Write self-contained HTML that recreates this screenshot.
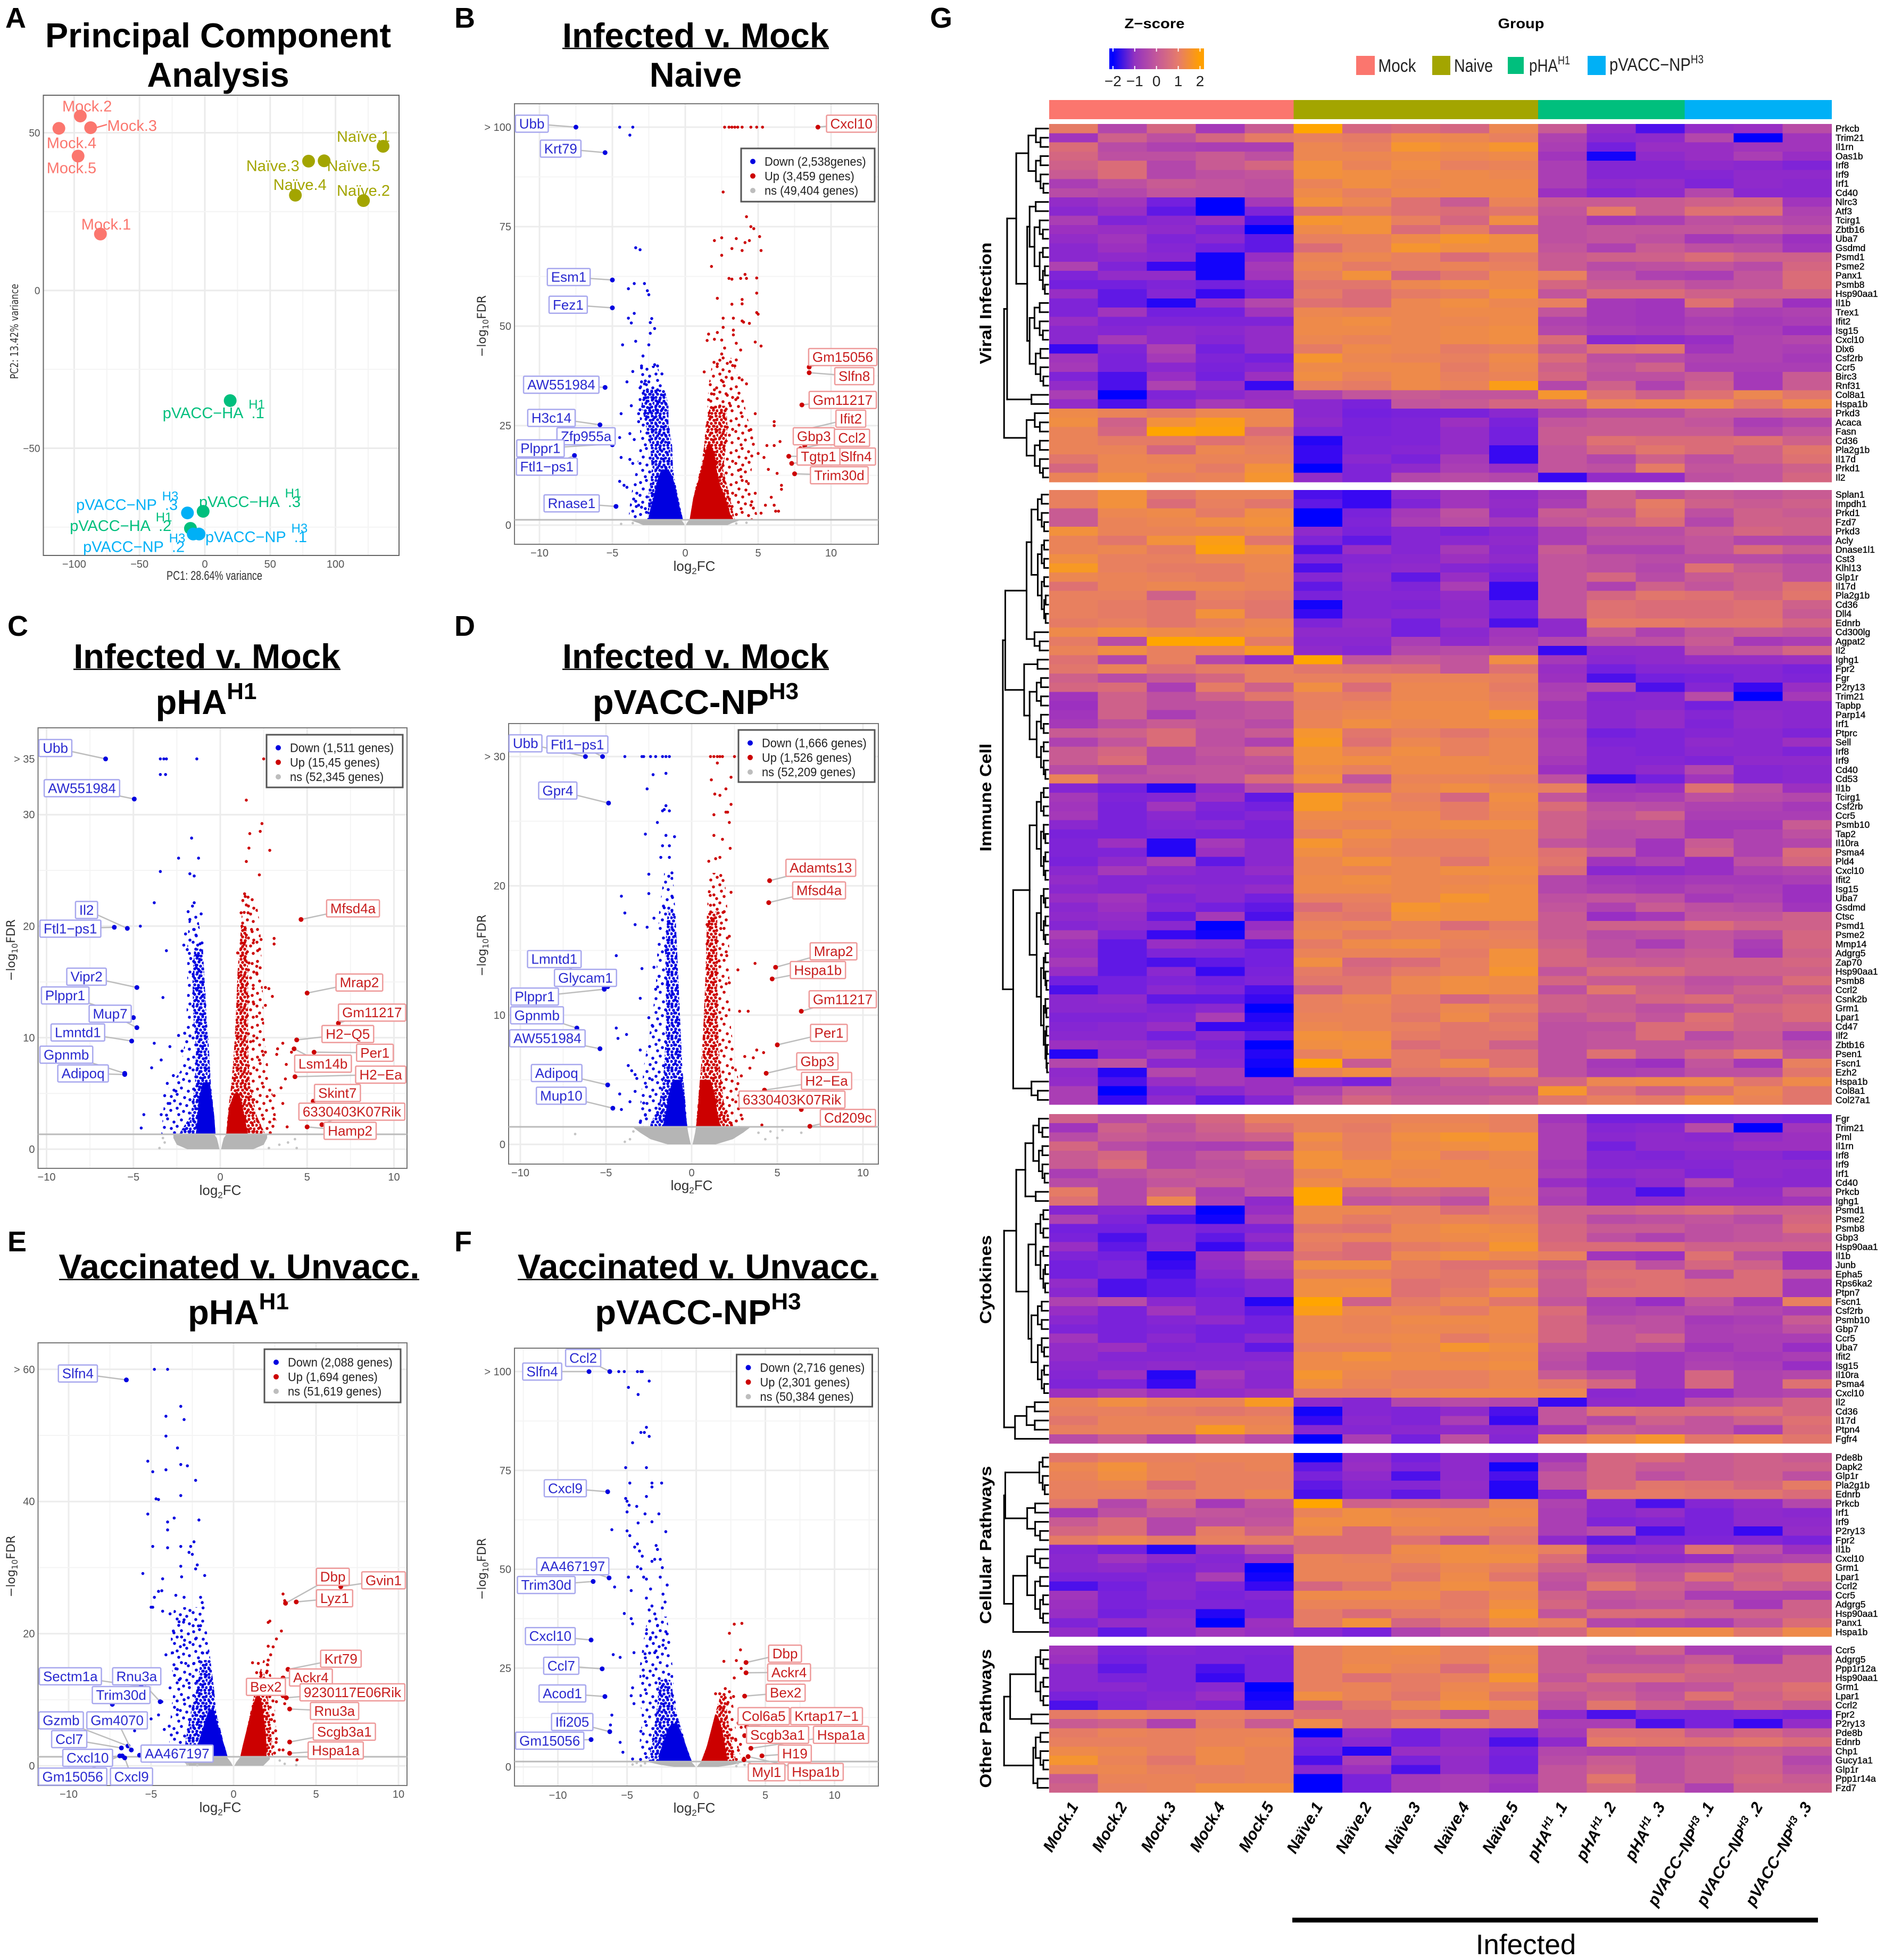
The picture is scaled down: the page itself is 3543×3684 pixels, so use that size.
<!DOCTYPE html>
<html lang="en"><head><meta charset="utf-8"><title>RNA-seq PCA, volcano plots and heatmap</title>
<style>
html,body{margin:0;padding:0;background:#fff}
svg{display:block}
text{font-family:"Liberation Sans",sans-serif}
.ttl{font-weight:700;font-size:65px;text-anchor:middle;fill:#000}
.ltr{font-weight:700;font-size:54px;fill:#000}
.side{font-weight:700;font-size:31px;text-anchor:middle;fill:#000}
.dj{font-family:"DejaVu Sans",sans-serif;fill:#333}
</style></head><body>
<svg id="fig" xmlns="http://www.w3.org/2000/svg" width="3543" height="3684" viewBox="0 0 3543 3684">
<rect width="3543" height="3684" fill="#fff"/>
<defs id="defs"><linearGradient id="zgrad" x1="0" x2="1" y1="0" y2="0"><stop offset="0.038" stop-color="#0000ff"/><stop offset="0.267" stop-color="#9232c0"/><stop offset="0.5" stop-color="#c4589a"/><stop offset="0.73" stop-color="#e67c6a"/><stop offset="0.957" stop-color="#ffa000"/></linearGradient></defs>

<g>
<text class="ltr" x="10" y="52">A</text>
<text class="ltr" x="854" y="52">B</text>
<text class="ltr" x="14" y="1195">C</text>
<text class="ltr" x="854" y="1195">D</text>
<text class="ltr" x="14" y="2352">E</text>
<text class="ltr" x="854" y="2352">F</text>
<text class="ltr" x="1748" y="52">G</text>
</g>

<g>
<text class="ttl" x="410" y="89" textLength="650" lengthAdjust="spacingAndGlyphs">Principal Component</text>
<text class="ttl" x="410" y="163">Analysis</text>
<text class="ttl" x="1307.5" y="89" textLength="501" lengthAdjust="spacingAndGlyphs">Infected v. Mock</text>
<line x1="1057" x2="1558" y1="91" y2="91" stroke="#000" stroke-width="2.5"/>
<text class="ttl" x="1307.5" y="163">Naive</text>
<text class="ttl" x="388.7" y="1256" textLength="501" lengthAdjust="spacingAndGlyphs">Infected v. Mock</text>
<line x1="138" x2="640" y1="1258" y2="1258" stroke="#000" stroke-width="2.5"/>
<text class="ttl" x="387.6" y="1342">pHA<tspan font-size="44" dy="-28">H1</tspan></text>
<text class="ttl" x="1307.5" y="1256" textLength="501" lengthAdjust="spacingAndGlyphs">Infected v. Mock</text>
<line x1="1057" x2="1558" y1="1258" y2="1258" stroke="#000" stroke-width="2.5"/>
<text class="ttl" x="1307.5" y="1342">pVACC-NP<tspan font-size="44" dy="-28">H3</tspan></text>
<text class="ttl" x="449.4" y="2403" textLength="678" lengthAdjust="spacingAndGlyphs">Vaccinated v. Unvacc.</text>
<line x1="111" x2="788" y1="2405" y2="2405" stroke="#000" stroke-width="2.5"/>
<text class="ttl" x="448" y="2489">pHA<tspan font-size="44" dy="-28">H1</tspan></text>
<text class="ttl" x="1312" y="2403" textLength="678" lengthAdjust="spacingAndGlyphs">Vaccinated v. Unvacc.</text>
<line x1="973" x2="1651" y1="2405" y2="2405" stroke="#000" stroke-width="2.5"/>
<text class="ttl" x="1312" y="2489">pVACC-NP<tspan font-size="44" dy="-28">H3</tspan></text>
</g>

<g id="pca"></g>
<g id="volB"></g>
<g id="volC"></g>
<g id="volD"></g>
<g id="volE"></g>
<g id="volF"></g>

<g>
<text x="2170" y="53" font-weight="700" font-size="26" text-anchor="middle" textLength="113" lengthAdjust="spacingAndGlyphs">Z−score</text>
<text x="2859" y="53" font-weight="700" font-size="26" text-anchor="middle" textLength="87" lengthAdjust="spacingAndGlyphs">Group</text>
<rect x="2085" y="91" width="178" height="39" fill="url(#zgrad)"/>
<g id="zticks"></g>
<rect x="2549" y="105" width="35" height="36" fill="#fb766e"/>
<text x="2590.5" y="135" font-size="34" fill="#222" textLength="71" lengthAdjust="spacingAndGlyphs">Mock</text>
<rect x="2692" y="105" width="34" height="36" fill="#a3a500"/>
<text x="2733" y="135" font-size="34" fill="#222" textLength="73" lengthAdjust="spacingAndGlyphs">Naive</text>
<rect x="2834" y="107" width="30" height="32" fill="#00bf7d"/>
<text x="2874" y="135" font-size="34" fill="#222" textLength="77" lengthAdjust="spacingAndGlyphs">pHA<tspan font-size="22" dy="-14">H1</tspan></text>
<rect x="2984" y="105" width="34" height="36" fill="#00b0f6"/>
<text x="3025" y="133" font-size="34" fill="#222" textLength="177" lengthAdjust="spacingAndGlyphs">pVACC−NP<tspan font-size="22" dy="-14">H3</tspan></text>
</g>

<g>
<text class="side" transform="translate(1863 570) rotate(-90)" textLength="229" lengthAdjust="spacingAndGlyphs">Viral Infection</text>
<text class="side" transform="translate(1863 1499) rotate(-90)" textLength="203" lengthAdjust="spacingAndGlyphs">Immune Cell</text>
<text class="side" transform="translate(1863 2405) rotate(-90)" textLength="167" lengthAdjust="spacingAndGlyphs">Cytokines</text>
<text class="side" transform="translate(1863 2904) rotate(-90)" textLength="297" lengthAdjust="spacingAndGlyphs">Cellular Pathways</text>
<text class="side" transform="translate(1863 3230) rotate(-90)" textLength="261" lengthAdjust="spacingAndGlyphs">Other Pathways</text>
</g>

<g id="heat"></g>
<line x1="2429" x2="3417" y1="3609" y2="3609" stroke="#000" stroke-width="9"/>
<text x="2868" y="3673" font-size="53" text-anchor="middle" fill="#000">Infected</text>
</svg>

<script>
/* ===== PCA data ===== */
const pcaNames=['Mock.1','Mock.2','Mock.3','Mock.4','Mock.5','Naïve.1','Naïve.2','Naïve.3','Naïve.4','Naïve.5','pVACC−HA','pVACC−HA','pVACC−HA','pVACC−NP','pVACC−NP','pVACC−NP'];
const pcaSups=['','','','','','','','','','','H1','H1','H1','H3','H3','H3'];
const pcaSuffix=['','','','','','','','','','','.1','.2','.3','.1','.2','.3'];
const pcaGroups=[0,0,0,0,0,1,1,1,1,1,2,2,2,3,3,3];
const pcaPC1=[-79.9,-95.3,-87.4,-111.7,-97,136.4,121.4,79.4,69.3,91.3,19.4,-11,-1.3,-4.4,-8.9,-13.3];
const pcaPC2=[17.9,55.3,51.6,51.4,42.6,45.7,28.5,41,30.2,41.1,-34.9,-75.4,-70,-77.2,-77.2,-70.5];
const pcaLabelAt=[[184,575],[151,272],[229,322],[124,366],[124,430],[630,350],[630,488],[473,425],[520,473],[613,425],[352,1058],[191,1347],[415,1286],[426,1376],[214,1401],[202,1293]];
const groupColors=['#fb766e','#a3a500','#00bf7d','#00b0f6'];

/* ===== Volcano B ===== */
const bGenes=['Ubb','Krt79','Esm1','Fez1','AW551984','H3c14','Zfp955a','Plppr1','Ftl1−ps1','Rnase1','Cxcl10','Gm15056','Slfn8','Gm11217','Ifit2','Slfn4','Gbp3','Ccl2','Tgtp1','Trim30d'];
const bGeneFC=[-7.5,-5.5,-5,-5,-5.5,-5.85,-5,-5,-7.6,-4.75,9.1,8.5,8.5,8,8.2,7.3,8.2,7.9,7.1,7.5];
const bGeneFDR=[100,93.6,61.6,54.6,34.6,25.2,20.2,20.4,17.5,4.7,100,39.7,38.3,30.2,24,15.5,19.9,19.2,17.3,12.9];
const bBoxes=[[922,317],[972,381],[986,710],[985,781],[973,986],[956,1071],[1016,1118],[937,1149],[948,1196],[991,1290],[1476,317],[1461,915],[1481,964],[1461,1025],[1475,1073],[1484,1170],[1411,1118],[1477,1122],[1419,1170],[1455,1218]];
const bLegend=['Down (2,538genes)','Up (3,459 genes)','ns (49,404 genes)'];
const bDown=[[-4.5,100],[-3.6,100],[-3.8,98],[-3.4,69.7],[-3.1,69.2],[-3.9,59.4],[-3.5,60.7],[-2.8,60.7],[-2.6,58.9],[-2.5,57.9],[-3.9,52],[-3.5,53.2],[-3.7,50.8],[-2.3,51.9],[-2.4,50.9],[-2.1,49.4],[-2.4,48.2],[-3.4,46.2],[-4.3,45.3],[-2.5,45.3],[-2.9,42.5],[-3.6,38.6],[-3,40],[-3,39.5],[-2.1,40.3],[-1.9,40],[-1.6,38],[-4,36],[-3,36],[-2.8,35.5],[-2.5,36],[-3.1,34.5],[-2.6,34],[-2.3,33.5],[-1.9,34],[-2.2,32],[-2.7,32],[-1.9,31],[-3.7,30],[-3.1,29],[-2,29],[-3.2,28],[-2.4,28.5],[-4.4,28],[-3.2,26],[-2.1,27],[-4.5,22],[-3.8,23],[-3.5,21.5],[-4.4,17],[-3.8,16.5],[-3.6,15.5],[-4.5,11],[-4.2,10],[-4,9.5],[-3.4,6],[-3.2,5],[-3,4.5],[-3.6,3.5]];
const bUp=[[2.7,100],[3,100],[3.2,100],[3.4,100],[3.6,100],[3.9,100],[4.5,100],[4.9,100],[5.3,100],[2.6,83.7],[4.2,77.5],[4.5,75],[4.7,74.5],[5.1,72.5],[2,71.5],[2.5,72.2],[3.5,72],[4.1,71],[4.4,71.5],[3.2,69.5],[3.9,69],[5.2,69],[2.5,67.8],[1.8,65],[3,62],[3.2,61.8],[3.8,62],[4.1,63],[4.2,62],[4.9,62.1],[4.9,58.3],[2.2,57],[3.2,55.5],[3.9,55.6],[3.9,56.7],[4.9,53.4],[5,53],[2.6,52],[3.3,52],[3.9,51.3],[4,51],[4.4,50.7],[2.6,49.7],[3.3,49],[2.2,48.4],[1.6,48],[3.3,47.8],[4.8,46],[2,46.7],[2.5,46.5],[1.5,46.4],[3.5,45.7],[5.2,45],[2.7,44.5],[2.5,43],[2.6,42],[3.1,41],[3.5,41.5],[3.8,44],[2.2,40.5],[3.4,40],[1.3,38.5],[3.2,37],[3.7,37],[3.9,36.5],[4.2,35.5],[2.6,36],[2,34],[1.8,33],[1.6,31.5],[2.8,33],[3.6,32],[3.1,30],[4.5,24],[6.1,26],[6.1,25],[4.8,28],[5.6,20],[6.1,20],[6.5,21],[5,18],[5.4,17],[5.7,14],[6.3,13],[6.6,10],[6.6,9],[5.9,7],[6.1,5],[5.5,5],[6.2,3.5],[6.4,3.5],[5.2,3],[4.5,5],[4.8,8],[4.2,11],[3.8,14]];
const bDownSolid=[[1.3,4,7,10,12,14],[-.15,-.35,-.53,-.72,-.85,-1.14],[-2.55,-2.4,-2.17,-2,-1.85,-1.63]];
const bDownCore=[[1.3,8,14,20,25,30,34],[-.15,-.55,-.85,-.9,-1.15,-1.15,-1.4],[-2.6,-2.5,-2.3,-2.4,-2.7,-3,-2.9]];
const bDownHalo=[[1.3,5,10,15,20,26,32,40],[-.15,-.4,-.7,-.85,-.9,-1.15,-1.3,-1.9],[-3.9,-3.8,-3.6,-3.3,-3.1,-3.1,-3.2,-3]];
const bUpSolid=[[1.3,4,7,10,14,18,20],[.3,.42,.56,.8,1.1,1.35,1.5],[3.2,3,2.75,2.4,2.15,2,1.8]];
const bUpCore=[[1.3,8,14,20,25,30],[.3,.6,1.05,1.3,1.4,1.7],[3.4,3,2.6,2.8,2.9,2.8]];
const bUpHalo=[[1.3,5,10,15,20,28,35,42],[.3,.45,.75,1.1,1.3,1.5,1.6,1.9],[5,4.8,4.4,4.6,4.8,4.2,3.8,3.2]];
const bNs=[[0,.5,1,1.3],[.05,.1,.2,.3],[2.9,3.2,3.6,3.8]];
const bNsDots=[[-4.4,.3],[-3.6,.5],[3.5,.4],[4.2,.6]];

/* ===== Volcano C ===== */
const cGenes=['Ubb','AW551984','Il2','Ftl1−ps1','Vipr2','Plppr1','Mup7','Lmntd1','Gpnmb','Adipoq','Mfsd4a','Mrap2','Gm11217','H2−Q5','Per1','Lsm14b','H2−Ea','Skint7','6330403K07Rik','Hamp2'];
const cGeneFC=[-6.6,-4.95,-5.35,-6.1,-4.8,-5,-4.8,-5.1,-5.5,-5.5,4.65,5,6.8,4.4,5.4,4.25,4.3,5.35,5.85,5];
const cGeneFDR=[35,31.4,19.8,19.9,14.5,11.8,10.9,9.7,6.8,6.7,20.6,14,11.3,9.8,8.7,9,6.5,4.3,2.2,2];
const cBoxes=[[96,349],[142,452],[150,764],[122,812],[150,935],[113,983],[191,1030],[135,1078],[115,1135],[144,1183],[612,760],[623,950],[645,1027],[603,1082],[650,1130],[560,1158],[660,1186],[585,1233],[610,1281],[607,1330]];
const cLegend=['Down (1,511 genes)','Up (15,45 genes)','ns (52,345 genes)'];
const cDown=[[-3.45,35],[-3.25,35],[-3.1,35],[-1.35,35],[-3.45,33.6],[-3.15,33.6],[-1.65,27.9],[-2.4,26.1],[-1.25,26.1],[-3.45,24.9],[-1.75,24.7],[-1.5,24.5],[-3.8,22.1],[-1.5,22.1],[-1.6,21.8],[-1.85,21.3],[-1.75,20.6],[-1.1,21.1],[-4.6,20],[-1.5,19.7],[-2,19.3],[-1.4,19.2],[-1.05,18.5],[-1.3,18.3],[-2.1,18.3],[-3.1,17.8],[-1.9,17.9],[-1.4,17.4],[-1.7,17.1],[-1.4,16.5],[-3.3,13.6],[-1.2,16],[-1.55,15.5],[-1.05,15],[-1.4,14.4],[-1.05,13.7],[-2.9,9.2],[-3.8,9.5],[-3.4,8],[-3.95,7.3],[-2.2,8.8],[-2.05,10.4],[-2.4,10.2],[-4.4,3.1],[-4.55,1.9],[-3.05,5.9],[-3.2,4.8],[-2.9,4.1],[-2.7,6.6],[-2.55,5.2],[-3.4,3.1]];
const cUp=[[2.5,35],[1.5,31.3],[2.4,29.2],[2.3,28.5],[1.7,28.3],[1.65,27],[2.85,26.8],[1.5,25.8],[2.25,24.6],[1.4,22.9],[1.6,22.6],[1.3,22.3],[1.5,21.9],[1.2,21.2],[1.6,21.2],[1.25,20],[1.4,19.7],[1.8,19.7],[1.5,19.2],[2.35,18.8],[3.1,18.9],[3.1,18.4],[1.25,18.5],[1,17.6],[1.9,18.5],[2.15,17.8],[1.4,17.1],[1.65,16.7],[2.1,16.4],[1.1,15.5],[2.1,15.8],[1.9,14.4],[2.6,14.5],[2.8,14.4],[3,13.7],[1.25,14.8],[1.6,13.7],[1.9,13.2],[1.1,12.5],[2.6,12.9],[2.1,11.9],[3.6,9.5],[3.3,9],[3.25,8.5],[4.1,8.7],[3.8,7.6],[3.5,5.5],[3.1,4.8],[3.75,6.3],[3.6,4.1],[3.1,2.7],[3.85,2],[2.6,8.7],[2.25,8],[1.9,9.7]];
const cDownSolid=[[1.3,3,4.5,6],[-.27,-.35,-.48,-.6],[-1.4,-1.3,-1.25,-1]];
const cDownCore=[[1.3,3,6,9,12,15,18],[-.27,-.35,-.55,-.65,-.8,-.9,-1],[-2.4,-1.7,-1.45,-1.4,-1.55,-1.6,-1.5]];
const cDownHalo=[[1.3,3,5,7,10,14,18,21],[-.27,-.35,-.5,-.6,-.7,-.85,-1,-1.3],[-3.4,-3.3,-3.2,-2.3,-2,-1.9,-1.9,-1.8]];
const cUpSolid=[[1.3,2.5,3.7,5],[.34,.42,.5,.8],[1.6,1.45,1.3,1.1]];
const cUpCore=[[1.3,3,6,9,12,16,20],[.34,.42,.65,.8,.9,1,1.2],[2.6,2.1,1.7,1.6,1.6,1.6,1.5]];
const cUpHalo=[[1.3,3,6,9,12,16,20,23],[.34,.42,.65,.8,.9,1,1.2,1.3],[3.3,3.2,2.9,2.6,2.5,2.4,2.3,2]];
const cNs=[[0,.4,1,1.3],[.05,.1,.2,.34],[1.9,2.5,2.7,2.7]];
const cNsDots=[[-3.5,.1],[-3.2,.6],[3.9,.6],[4.4,.1],[4.3,.9],[3.4,.4],[-3.3,1],[2.8,.1]];

/* ===== Volcano D ===== */
const dGenes=['Ubb','Ftl1−ps1','Gpr4','Lmntd1','Glycam1','Plppr1','Gpnmb','AW551984','Adipoq','Mup10','Adamts13','Mfsd4a','Mrap2','Hspa1b','Gm11217','Per1','Gbp3','H2−Ea','6330403K07Rik','Cd209c'];
const dGeneFC=[-6.2,-5.2,-4.85,-5.1,-4.9,-5.1,-6.7,-5.35,-4.9,-4.6,4.55,4.5,4.9,4.7,6.4,5,4.35,4.25,6.4,6.9];
const dGeneFDR=[30,30,26.4,12.1,12.2,12,9,7.4,4.6,2.8,20.4,18.7,13.7,12.8,10.3,7.7,5.5,4.2,2.7,1.4];
const dBoxes=[[911,337],[1001,340],[967,458],[961,890],[1015,938],[927,986],[931,1034],[949,1093],[965,1182],[973,1240],[1423,656],[1420,714],[1445,870],[1418,918],[1461,993],[1437,1079],[1417,1152],[1433,1202],[1373,1250],[1470,1297]];
const dLegend=['Down (1,666 genes)','Up (1,526 genes)','ns (52,209 genes)'];
const dDown=[[-3.9,30],[-2.9,30],[-2.8,30],[-2.4,30],[-2.1,30],[-1.7,30],[-1.5,30],[-1.3,30],[-2.25,28.6],[-1.5,28.7],[-2.6,27.5],[-1.6,25.9],[-1.5,26.2],[-1.7,25.8],[-1.3,25.8],[-2,24.9],[-2.7,24],[-1.5,23.9],[-1,23.8],[-1.7,23.1],[-1.3,23.1],[-1.8,22.2],[-1.3,22.2],[-2.5,20.9],[-1.15,21],[-4.1,19.2],[-2.5,19.4],[-3.9,17.9],[-3.3,17],[-2.6,16.8],[-2.2,17.5],[-4.4,14.6],[-2.9,13.6],[-3,11.3],[-4.4,9],[-4.3,8.2],[-3.8,8.5],[-3,7.3],[-3.7,6.1],[-3.5,5.7],[-3.3,5.4],[-3.2,5.1],[-4.2,3.9],[-3.6,3.3],[-4.1,2.7],[-3,1.7],[-2.7,2.3],[-2.8,3.2],[-3.3,4.1],[-2.3,5],[-2.5,9.8],[-2.3,9.2],[-2.2,13.7],[-1.3,17.1],[-1.6,18.3],[-1.15,19.2],[-1.5,15],[-1.9,13],[-1.4,12.5],[-2.1,12],[-1.2,11.5]];
const dUp=[[1.1,30],[1.3,30],[1.5,30],[1.65,30],[1.8,30],[2.5,30],[1.5,29.5],[2.3,28.4],[1.15,28.2],[2,27.5],[1.35,27.1],[1.65,27],[2.3,26.3],[2.1,25.7],[2,25.7],[1.3,25.5],[2.2,24.9],[1.3,23.9],[1.8,23.6],[2.25,22.9],[1.65,22.2],[1.4,22.1],[1,21.9],[1.7,20.8],[1.3,19.3],[2.3,19.5],[2.2,16.1],[3.7,14],[2.7,13.5],[3.3,10.3],[2.8,10.3],[3.1,6.8],[3.8,7.3],[4.2,7.1],[3.6,6.7],[3.4,5.9],[2.9,5.3],[2.7,4.7],[3.05,3.8],[4.1,1.5],[.9,17],[1.2,17.3],[1.55,17.9],[1.7,16.7],[.9,15.5],[1.4,15.8],[2.05,14.6],[1.1,18.5],[1.9,18],[1.6,14.2],[1.2,13.2],[2.2,12.5]];
const dDownSolid=[[1.3,2.5,3.8,5],[-.25,-.35,-.45,-.6],[-1.7,-1.5,-1.35,-1.1]];
const dDownCore=[[1.3,3,6,9,12,15,18],[-.25,-.35,-.55,-.65,-.75,-.85,-.95],[-2.5,-1.9,-1.6,-1.5,-1.5,-1.55,-1.4]];
const dDownHalo=[[1.3,3,6,9,12,15,18,21],[-.25,-.35,-.55,-.65,-.75,-.85,-.95,-1.1],[-3.1,-3,-2.8,-2.4,-2.1,-2,-1.9,-1.6]];
const dUpSolid=[[1.3,2.5,3.8,5],[.25,.35,.42,.55],[1.7,1.5,1.35,1.1]];
const dUpCore=[[1.3,3,6,9,12,15,18],[.25,.35,.55,.68,.78,.85,.9],[2.5,1.9,1.65,1.55,1.5,1.5,1.5]];
const dUpHalo=[[1.3,3,6,9,12,15,18,21],[.25,.35,.55,.68,.78,.85,.9,1],[3.2,3,2.6,2.3,2.2,2.2,2.1,1.9]];
const dNs=[[0,.4,.9,1.3],[.05,.12,.2,.25],[1.4,2.4,3,3.4]];
const dNsDots=[[-6.8,.8],[-3.6,.4],[-3.4,1],[5.3,1.1],[5,.5],[4.3,.4],[3.9,.9],[6.4,.9],[-3.9,.2],[4.6,1]];

/* ===== Volcano E ===== */
const eGenes=['Slfn4','Sectm1a','Rnu3a','Trim30d','Gzmb','Gm4070','Ccl7','Cxcl10','Gm15056','AA467197','Cxcl9','Dbp','Lyz1','Gvin1','Krt79','Ackr4','Bex2','9230117E06Rik','Rnu3a','Scgb3a1','Hspa1a'];
const eGeneFC=[-6.5,-5.6,-4.45,-7.35,-6.4,-6.2,-6.8,-6.75,-6.9,-5.7,-6.6,3.15,3.8,6.5,3.3,3,3,3.2,3.4,3.4,3.4];
const eGeneFDR=[58.4,12,9.7,9.3,3,2.4,2.7,1.5,1.5,1.6,1.2,24.6,24.8,27.1,14.6,13.3,10.6,10.3,8.6,3.6,1.9];
const eBoxes=[[135,384],[122,1160],[237,1160],[210,1208],[106,1273],[203,1273],[120,1321],[152,1369],[126,1417],[307,1358],[228,1417],[577,905],[580,960],[665,914],[591,1115],[539,1163],[461,1187],[611,1201],[580,1249],[597,1302],[582,1350]];
const eLegend=['Down (2,088 genes)','Up (1,694 genes)','ns (51,619 genes)'];
const eDown=[[-4.8,60],[-4,60],[-3.2,54.4],[-4.1,52.9],[-3,52.4],[-4.1,49.9],[-3.4,48.1],[-5.2,46.1],[-4.9,44.5],[-4.1,44.8],[-3.2,45.6],[-2.8,45.4],[-2.3,43.2],[-3.2,40.9],[-4.7,40.4],[-4.55,40.3],[-5.2,38.1],[-3.6,37.5],[-4,36.9],[-2.1,37.2],[-4,35.7],[-4.9,33.2],[-4,33],[-3.2,33.2],[-2.6,33.2],[-2.4,33.9],[-2.7,32.3],[-2.5,32],[-2.2,30.4],[-3.2,30.2],[-2.3,29.8],[-1.75,28.8],[-5.5,29.1],[-4.3,28.3],[-3.15,28.6],[-4.55,26.4],[-4.35,26.5],[-4.8,25.5],[-3.5,25.8],[-3,25.5],[-2,25.5],[-1.9,24.7],[-4.9,24],[-5,24],[-4.3,23.4],[-3.85,23],[-1.85,23.9],[-3.65,20.4],[-3.3,21.8],[-3,22.1],[-2.45,21.2],[-2,21.2],[-4.1,16.8],[-3.7,17.1],[-3.15,19.5],[-3,18.3],[-2.3,19.2],[-1.9,17.1],[-1.6,17.1],[-3.5,14.7],[-3.3,13],[-3.85,11.8],[-4.35,9.7],[-4.55,7.7],[-5,7.1],[-6,5.3],[-3.9,6],[-4.2,5.5],[-3,10],[-2.7,12.5],[-3.4,8.5],[-2.9,15.5],[-2.4,15.5],[-2.2,12.8]];
const eUp=[[3,26],[3.1,25],[2.2,21.9],[2.1,21.7],[2.9,20.4],[2.6,19.2],[2.1,18.1],[2.4,18],[2.25,16.8],[2.1,16],[1.15,15.6],[1.5,15.5],[2.05,15.3],[1.65,14.1],[2,14.1],[1.4,14.1],[2.95,11],[2.6,9.7],[2.25,11.8],[3.1,9.4],[2.55,5.3],[3,2.4],[2.3,7],[2.6,4.1],[3.85,.9]];
const eDownSolid=[[1.3,3,5,7,8.5],[-.35,-.55,-.8,-1.05,-1.2],[-2.3,-2.2,-1.95,-1.7,-1.5]];
const eDownCore=[[1.3,4,8,12,16],[-.35,-.65,-1.05,-1.2,-1.4],[-3,-2.9,-2.6,-2.2,-2]];
const eDownHalo=[[1.3,4,8,12,16,20,24],[-.35,-.65,-1.05,-1.2,-1.4,-1.6,-1.9],[-3.9,-3.9,-3.8,-3.6,-3.8,-3.8,-3.6]];
const eUpSolid=[[1.3,3,5,7,9,10.5],[.4,.55,.75,.95,1.15,1.35],[2,2,1.95,1.85,1.75,1.6]];
const eUpCore=[[1.3,5,9,12,14],[.4,.75,1.1,1.35,1.6],[2.4,2.3,2.15,2,1.85]];
const eUpHalo=[[1.3,5,9,12,16],[.4,.75,1.1,1.35,1.8],[3,2.6,2.5,2.4,2.1]];
const eNs=[[0,.5,1,1.3],[.05,.15,.3,.4],[1.8,2,2.2,2.2]];
const eNsDots=[[-3.1,.8],[-2.8,.2],[-2.5,.6],[3.1,.3],[3.8,.1],[3.8,.8],[2.8,.8],[-2.2,.1]];

/* ===== Volcano F ===== */
const fGenes=['Ccl2','Slfn4','Cxcl9','AA467197','Trim30d','Cxcl10','Ccl7','Acod1','Ifi205','Gm15056','Dbp','Ackr4','Bex2','Col6a5','Krtap17−1','Scgb3a1','Hspa1a','H19','Myl1','Hspa1b'];
const fGeneFC=[-6.25,-7.75,-6.4,-6.3,-7.45,-7.6,-6.8,-6.6,-6.25,-7.6,3.6,3.6,3.5,3.1,3.65,3.5,3.95,4.75,3.45,3.75];
const fGeneFDR=[100,100,69.6,47.8,46.9,32.1,24.8,17.8,8.9,6.9,26.4,23.8,17.9,11.1,10.2,7.9,4.7,2.8,1.8,2.6];
const fBoxes=[[1011,344],[940,379],[980,678],[993,878],[947,926],[954,1057],[973,1133],[975,1204],[992,1277],[953,1325],[1361,1102],[1368,1150],[1362,1202],[1324,1262],[1433,1262],[1348,1310],[1458,1310],[1378,1358],[1329,1406],[1414,1405]];
const fLegend=['Down (2,716 genes)','Up (2,301 genes)','ns (50,384 genes)'];
const fDown=[[-5.6,100],[-5.2,100],[-4.25,100],[-4,100],[-3.9,100],[-4.9,96],[-3.4,97.6],[-4.2,94.2],[-3.6,85.9],[-4,84.6],[-3.75,84.6],[-3.4,83.6],[-4.6,82],[-5.1,75.7],[-3.6,75.7],[-4.8,71.8],[-3.2,71.8],[-3.2,70.8],[-2.5,71.8],[-5.1,67.9],[-5,67.2],[-4.85,66.2],[-4.3,65.9],[-3.6,68.4],[-5,64.5],[-3.7,64],[-2.7,64],[-3.2,62],[-4.2,61.7],[-6.1,60],[-5,59.7],[-4.8,58.5],[-2.2,59.5],[-4.25,56.4],[-4.45,55.6],[-4.1,54.6],[-2.9,56],[-2.8,55],[-3.9,53.3],[-3,52.5],[-3.2,52],[-2.6,52.5],[-4.25,50.6],[-4,50.1],[-2.45,50.4],[-4.9,48],[-3.8,48],[-3.6,47.5],[-5.9,45.5],[-2.6,48],[-2.1,46],[-3.3,45],[-4.7,44.6],[-2.4,43.7],[-3.6,42.7],[-2.25,41.7],[-3.2,40.7],[-3.4,39.7],[-2.45,40.2],[-5.2,38.8],[-3,38.7],[-4.7,37.5],[-4.6,36.2],[-2.8,35.7],[-3.6,33.7],[-2.2,34.2],[-3.3,32.7],[-6,28.4],[-5.5,27.7],[-4.5,28.9],[-3.7,28.6],[-3,28.9],[-2.4,30.8],[-4.6,20],[-4.7,18],[-6.1,13.1],[-6.2,10.6],[-5.5,6.2],[-5.3,3.7],[-4.6,2],[-4,9],[-4.5,16],[-3.8,23]];
const fUp=[[2.75,36.1],[3.3,36.3],[2.4,33.8],[3.2,29.6],[2.9,26.9],[2,26.7],[3.25,24.9],[2.75,22.5],[2.1,19.8],[1.4,18.5],[1.7,18.5],[2.4,19],[2.1,17.5],[1.8,15],[2.3,16.3],[2.7,17.8],[3.4,12],[3.25,10],[2.85,7],[3.05,4.2],[3.45,2.2],[2.6,3.2],[3.2,5.7]];
const fDownSolid=[[1.3,3,5,7,9,11],[-.3,-.5,-.7,-.9,-1.1,-1.4],[-2.7,-2.7,-2.5,-2.3,-2.1,-1.8]];
const fDownCore=[[1.3,6,11,16,22],[-.3,-.8,-1.2,-1.6,-1.8],[-3.5,-3.2,-3,-2.8,-2.7]];
const fDownHalo=[[1.3,6,12,18,25,32,38],[-.3,-.8,-1.2,-1.6,-1.7,-1.9,-2.1],[-4.3,-4.1,-3.9,-4.1,-4.1,-3.8,-3.5]];
const fUpSolid=[[1.3,3,5,7,9,11,13],[.35,.55,.75,.9,1.05,1.2,1.35],[2.3,2.2,2.1,2,1.9,1.75,1.55]];
const fUpCore=[[1.3,6,11,15,18],[.35,.85,1.2,1.5,1.75],[2.9,2.6,2.35,2.2,2.1]];
const fUpHalo=[[1.3,6,11,15,19],[.35,.85,1.2,1.5,1.9],[3.3,3,2.8,2.7,2.5]];
const fNs=[[0,.5,1,1.3],[.05,.15,.28,.35],[1.6,2.6,3.2,3.6]];
const fNsDots=[[-4.6,.6],[-4,.3],[-3.7,.9],[3.5,.5],[3,.9],[-4.3,1],[2.9,.2]];

/* ===== Heatmap: columns and colour scale ===== */
const colBase=['Mock.1','Mock.2','Mock.3','Mock.4','Mock.5','Naïve.1','Naïve.2','Naïve.3','Naïve.4','Naïve.5','pHA','pHA','pHA','pVACC−NP','pVACC−NP','pVACC−NP'];
const colSup=['','','','','','','','','','','H1','H1','H1','H3','H3','H3'];
const colSuffix=['','','','','','','','','','',' .1',' .2',' .3',' .1',' .2',' .3'];
const colGroup=[0,0,0,0,0,1,1,1,1,1,2,2,2,3,3,3];
const zBreaks=[-2,-1.7,-1.4,-1,-.6,-.2,.2,.6,1,1.5,2];
const zColors=[[0,0,255],[56,8,242],[116,32,222],[138,40,207],[156,48,192],[174,66,176],[194,85,156],[218,108,120],[232,128,95],[242,145,60],[255,165,0]];
const zTickValues=[-2,-1,0,1,2];
const zTicks=['−2','−1','0','1','2'];

const viralGenes=['Prkcb','Trim21','Il1rn','Oas1b','Irf8','Irf9','Irf1','Cd40','Nlrc3','Atf3','Tcirg1','Zbtb16','Uba7','Gsdmd','Psmd1','Psme2','Panx1','Psmb8','Hsp90aa1','Il1b','Trex1','Ifit2','Isg15','Cxcl10','Dlx6','Csf2rb','Ccr5','Birc3','Rnf31','Col8a1','Hspa1b','Prkd3','Acaca','Fasn','Cd36','Pla2g1b','Il17d','Prkd1','Il2'];
const viralZ=[
[.9,-.1,.5,-.4,.3,2,.5,.6,.5,1.2,.3,-.8,-1.6,-.8,-.7,0],
[-.5,.4,.1,.5,.9,1,.9,1.3,1.2,1,-.2,-1,-.9,-.1,-2,-.5],
[.6,0,-.2,-.3,-.3,1.2,1,1.6,1.4,1.6,-.3,-1.4,-.7,-.7,-.5,-.5],
[.5,.1,.1,.3,.1,1.2,1.2,1.3,1.2,1.3,-.5,-1.9,-.9,-.7,-.3,-.7],
[.4,.6,-.1,.3,.5,1.5,1.1,1.4,1,1.1,-.3,-1.1,-1.1,-.9,-1,-1.2],
[.3,.6,-.1,.1,.2,1.5,1.4,1.3,1.3,1.2,-.3,-1.1,-1.1,-1.1,-.9,-.9],
[-.3,.1,.3,.2,.1,1.1,1.4,1.2,1.3,1.3,-.3,-.9,-.8,-1.2,-.9,-1],
[0,-.1,.2,.2,.1,1.3,1,1.3,1.3,1.3,-.6,-1.1,-.9,-.1,-1,-1],
[-.8,-.5,-1.4,-2,-.4,1.5,1.2,.7,.3,1.1,.3,.3,.3,.4,.5,-.5],
[-1,-.7,-1.5,-2,-1.2,.7,.9,.7,.6,.8,.2,.9,.3,.7,.7,-.2],
[-.3,-1.2,-1,-.6,-1.6,1.6,1.5,1,.5,1.4,.1,-.4,-.3,.1,0,-.1],
[-.6,-.7,-.9,-1.3,-2,1.3,1.5,.6,.9,.4,.1,.2,.2,.2,.3,.1],
[-.8,-.5,-1.2,-1,-1.5,1,1,1.3,1.6,1.4,.1,.2,.1,-.4,-.2,-.6],
[-1,-.6,-1.1,-1.4,-1.5,.6,1,1.6,1.4,1.4,.2,-.2,.3,.1,0,-.5],
[-1,-.9,-1,-1.9,-.7,1.1,1.2,1,.6,.9,.3,.4,.4,.6,.4,.4],
[-.2,-1.2,-1.7,-1.9,-.4,1.2,.9,1,1.1,1,.3,0,.1,.2,0,.5],
[-1.2,-.8,-.8,-1.9,-.5,1,1.5,.5,.8,1.3,1,.2,-.2,-.3,.2,.6],
[-1.4,-1.4,-1.2,-1.4,-1.2,.8,.8,1.2,1.4,1.3,.5,.3,.3,.1,.2,.6],
[-.7,-1.5,-1.1,-1.7,-1.3,.9,.6,.9,1,1.5,.2,.6,.6,.4,.4,.4],
[-1.2,-1.5,-1.8,-.7,-.1,.7,.6,1.2,1.4,1.2,1,-.4,-.5,.7,.1,-.6],
[-1.2,-.5,-1.4,-1.4,-.5,1.2,1.1,1.2,1.3,1.3,.2,-.4,-.5,-.1,-.3,-.2],
[-.7,-1.2,-1.2,-1.2,-1.2,1.3,1.4,1.2,1.2,1.3,-.2,-.4,-.5,-.3,-.4,-.3],
[-1,-1.1,-.9,-1,-.8,1.3,1.3,1.2,1.3,1.4,-.1,-.3,-.4,-.2,-.3,-.6],
[-1,-.4,-.9,-1.1,-.8,1.2,1.1,1.2,1.3,1.4,.6,-1,-.9,-.7,-.2,-.1],
[-1.7,-1.2,-.2,-1.4,-.8,.9,1.3,1.2,.9,1,.3,.7,.8,-.5,-.2,-.3],
[-.5,-1.3,-.4,-1.2,-1.4,1.6,1.2,1.1,1,1.3,.6,.1,0,-.2,-.2,-.4],
[-.4,-1.3,-1,-1.3,-1.1,1.3,1.3,1.3,.9,1.2,.4,.2,.4,-.3,-.3,-.3],
[-1.2,-1.6,-.7,-1.4,-.6,1.4,1.1,1.3,1,1.1,.5,.1,.1,.3,-.4,.3],
[-.8,-1.6,-.2,-.8,-1.7,1,.9,1.3,1.1,1.8,-.1,.4,-.2,.4,-.4,.3],
[-.3,-2,-1.2,-1,-.7,-.2,.2,.3,.2,.2,1.6,.7,.4,.7,1.2,.8],
[-.8,-1.6,-1,-.4,-.6,-1,-1.3,.2,.3,.5,.5,1.2,1.3,1.3,.8,1.3],
[1.3,1.1,.9,1.2,1.2,-1,-1.4,-1.3,-1.3,-1,-.2,0,0,.3,.3,.4],
[1.4,.4,1.5,1.8,1.2,-.9,-1.3,-1.2,-.6,-1.3,.2,.3,.3,.2,-.3,-.1],
[1.1,.5,2,1.9,.6,-1.2,-1.3,-1.2,-.8,-1.4,.3,.3,.3,.3,-.1,.2],
[1.1,.9,.9,.7,.9,-1.8,-1.2,-1.2,-.8,-1.4,.3,.7,.6,.6,.7,.4],
[1.1,1.1,.5,1.2,1,-1.7,-1.2,-1.1,-.8,-1.7,.2,.5,.8,.6,.4,.8],
[.8,1.2,1.1,1.1,1.1,-1.7,-1,-1.3,-.4,-1.7,.2,-.1,.4,.1,.4,.7],
[.5,1.2,1.2,.9,1.5,-2,-1.2,-.9,-.3,-.7,.2,.1,.9,.2,.2,.4],
[1.1,1.4,1,1.1,1.6,-.8,-1.2,-.1,0,-.1,-1.7,-.8,-.8,.1,.2,.5]];

const immuneGenes=['Splan1','Impdh1','Prkd1','Fzd7','Prkd3','Acly','Dnase1l1','Cst3','Klhl13','Glp1r','Il17d','Pla2g1b','Cd36','Dll4','Ednrb','Cd300lg','Agpat2','Il2','Ighg1','Fpr2','Fgr','P2ry13','Trim21','Tapbp','Parp14','Irf1','Ptprc','Sell','Irf8','Irf9','Cd40','Cd53','Il1b','Tcirg1','Csf2rb','Ccr5','Psmb10','Tap2','Il10ra','Psma4','Pld4','Cxcl10','Ifit2','Isg15','Uba7','Gsdmd','Ctsc','Psmd1','Psme2','Mmp14','Adgrg5','Zap70','Hsp90aa1','Psmb8','Ccrl2','Csnk2b','Grm1','Lpar1','Cd47','Ilf2','Zbtb16','Psen1','Fscn1','Ezh2','Hspa1b','Col8a1','Col27a1'];
const immuneZ=[
[1,1.5,.8,1.1,1.1,-1.6,-1.7,-1,-.5,-.9,-.4,.4,.1,.3,.2,.3],
[1,1.5,.6,1,.8,-1.5,-1.7,-1.2,-.5,-.8,-.3,.4,.9,.4,.3,.4],
[.3,1.2,1.3,.9,1.4,-2,-1.3,-.4,.1,-.9,.3,.2,.8,.1,.4,.3],
[.3,1.1,1.2,1.4,1.5,-2,-1.2,-.3,0,-.4,.2,.4,.6,-.1,.4,.4],
[1.5,1.1,1.1,1.1,1.3,-.9,-1.3,-1.1,-1.3,-1,-.3,0,0,.3,.5,.4],
[1.1,.8,1.5,1.8,.8,-1.2,-1.5,-1.1,-1,-.9,-.3,.1,.1,.2,-.1,-.1],
[1.1,1.2,.9,1.9,1.5,-1.6,-.7,-1.1,-.4,-1,.3,-.2,-.2,.2,.6,.3],
[1.4,1,1,1.2,1.2,-1.2,-1.1,-1,-.6,-.9,.2,.1,0,0,0,-.1],
[1.7,1,.9,.9,1.2,-1.6,-1,-.9,-1.1,-1.2,.2,.1,-.1,.7,.3,.1],
[1.2,1.1,1,.9,1.1,-1.1,-.9,-1.5,-.7,-1.4,.2,.5,0,.3,.4,.1],
[.7,1.1,1.2,1.2,1.1,-1.5,-1,-1.2,-.3,-1.7,.2,-.2,.4,.2,.4,.7],
[1,1,.4,1,.9,-1.3,-1.1,-1.1,-.8,-1.7,.2,.5,.8,.7,.5,.8],
[1,.9,.8,.9,.8,-1.9,-1.1,-1.2,-.9,-1.4,.2,.7,.6,.6,.7,.4],
[1,.9,.8,1.5,.8,-1.7,-1.1,-1,-.9,-1.4,.2,.7,.6,.6,.7,.3],
[.9,1,.8,1,1.2,-1.2,-.8,-1.4,-.7,-1.6,-.9,.9,.9,.8,.8,.5],
[1.3,1.5,1.3,1.2,1.3,-.9,-.9,-1.4,-1,-.5,-.9,.3,-.2,.2,.3,.2],
[.9,0,2,2,.9,-1,-1,-.3,-.9,-.4,-.1,0,.1,.3,-.4,-.3],
[1.1,1.4,1,1.1,1.7,-.9,-1.1,-.1,0,-.1,-1.7,-.9,-.9,.1,.2,.5],
[.7,-.1,1,-.1,-.8,2,.2,.3,.2,1.4,-.4,-1,-.9,-.7,-.7,-.6],
[.8,1.1,.7,.9,1,.8,.7,.6,.2,.7,-.7,-1.4,-1.1,-1.1,-1.1,-1.3],
[.4,0,.3,.5,1,1,1,1.1,1.1,1,-.6,-1.6,-1.4,-1.3,-1.1,-1.2],
[.5,.6,-.3,.9,.4,1.4,.6,1.2,1.2,.9,-.3,-.1,-1.6,-1.1,-1.7,-.7],
[-.5,.4,.1,.4,.8,1,.9,1.2,1.2,1,-.2,-1.1,-1,0,-2,-.4],
[-.6,.4,.1,.1,.2,1,1.1,1.3,1.3,1.1,-.5,-1,-1,-1.4,-1,-1],
[-.5,.4,-.3,.1,.2,1.1,1.2,1.3,1.3,1.6,-.5,-1,-.8,-1.1,-.9,-1],
[-.4,.1,.3,.2,0,1.1,1.4,1.2,1.3,1.3,-.3,-1,-.8,-1.2,-.9,-1],
[.3,.4,.6,.1,.3,1.6,.8,1,.8,1.1,-.4,-1.4,-1.2,-1.1,-1,-1.2],
[-.2,.2,.6,.1,-.2,1.7,.7,1.2,1,1.2,-.3,-1.2,-1.2,-.9,-1,-.6],
[.3,.5,-.1,.2,.5,1.5,1.1,1.4,1,1.2,-.3,-1.1,-1.2,-1,-1,-1.2],
[.3,.6,-.1,.1,.2,1.5,1.4,1.3,1.3,1.2,-.4,-1.1,-1.1,-1.2,-.9,-.9],
[0,-.1,.2,.2,.1,1.3,1,1.3,1.3,1.3,-.6,-1.1,-.9,-.1,-1.1,-1],
[1.1,.1,.1,.2,.6,1.5,.2,1.1,1.1,1,.1,-1.7,-1.4,-.5,-1.1,-1],
[-1.1,-1.4,-1.8,-.8,0,.6,.6,1.2,1.4,1.2,1,-.5,-.6,.7,.1,-.6],
[-.4,-1.2,-1.1,-.6,-1.5,1.7,1.4,1,.5,1.4,.2,-.4,-.3,.1,0,-.1],
[-.5,-1.3,-.5,-1.2,-1.4,1.7,1.2,1.1,.9,1.3,.6,.1,0,-.2,-.2,-.4],
[-.4,-1.3,-1,-1.3,-1.1,1.3,1.3,1.3,.9,1.2,.4,.2,.4,-.3,-.3,-.3],
[-1,-1.3,-1.1,-1,-1.3,1.2,1.1,1.3,1.4,1.4,.4,.1,.1,-.4,-.4,.3],
[-1.3,-1.3,-1.2,-1.3,-1.3,1,1.4,1.2,1.2,1.2,.4,0,.1,-.4,-.2,.1],
[-1.2,-.6,-1.8,-.4,-1,1.6,1.2,1,1,1.2,.2,0,-.5,.3,-.2,-.1],
[-1.2,-1.2,-1.8,-.6,-1,1.4,1.1,1,1,1.2,.7,.3,-.5,.4,-.2,.6],
[-1.3,-.9,-.3,-1.5,-1,1.2,1.5,1.2,.8,1.3,.8,-.5,-.2,-.7,.1,.5],
[-1,-.4,-.9,-1.1,-.8,1.2,1.1,1.2,1.4,1.4,.6,-1,-.9,-.7,-.2,-.1],
[-.8,-1.1,-1.1,-1.1,-1.1,1.3,1.4,1.2,1.2,1.3,-.1,-.4,-.5,-.4,-.4,-.3],
[-1,-1.1,-.9,-1,-.8,1.3,1.3,1.2,1.3,1.4,-.1,-.3,-.4,-.2,-.3,-.6],
[-.7,-.5,-1.2,-1,-1.4,1,1,1.2,1.6,1.4,.1,.2,.1,-.4,-.2,-.6],
[-1,-.6,-1.1,-1.4,-1.5,.6,.9,1.6,1.4,1.4,.2,-.2,.3,.1,0,-.5],
[-.9,-.8,-1.5,-.4,-1.6,.9,.8,1.5,1.4,1.4,.3,-.7,-.4,.2,.2,.4],
[-1.1,-.9,-1,-2,-.7,1.1,1.2,1,.6,.9,.3,.4,.4,.6,.4,.4],
[-.3,-1.2,-1.7,-1.9,-.4,1.2,.9,1,1.1,1,.3,0,.1,.2,0,.5],
[-.6,-1.5,-.7,-.9,-1.5,.9,1.3,1.4,1,1.1,.4,.1,-.3,.2,-.3,.5],
[-.7,-1.5,-1.2,-1.2,-1.4,1.1,1.1,1.1,.9,1.5,.5,.1,.2,.3,-.4,.4],
[-.4,-1.5,-1.6,-1.5,-1.4,1.4,.5,.6,1,1.5,.5,.4,.3,.4,.4,.5],
[-.7,-1.5,-1,-1.7,-1.3,.9,.6,.9,1,1.6,.2,.6,.6,.4,.4,.4],
[-1.4,-1.4,-1.2,-1.4,-1.2,.8,.8,1.2,1.4,1.3,.5,.3,.3,.1,.2,.6],
[-1.6,-1.4,-1,-1.2,-1.6,.4,.8,1.2,1.4,1.3,.1,.8,.4,.2,.4,.3],
[-1,-.9,-1.5,-1.5,-1.7,1,1.2,.9,.5,.8,.4,.3,.5,.6,.3,.5],
[-1,-1,-1.2,-1,-2,1,1.1,.9,1.2,1,.4,.3,.1,.2,.5,.6],
[-1.2,-1.2,-1.1,-.3,-1.8,1.1,1.1,.8,1.3,.8,.2,.4,.2,.7,.4,.6],
[-1.1,-1,-.7,-1.7,-1.7,1.2,1.1,1,.8,.9,.1,.1,.6,.6,.4,.3],
[-1,-1,-1.4,-1,-1.5,1.5,1.4,.9,.8,.8,.1,.2,.6,0,.3,-.3],
[-.6,-.7,-.9,-1.3,-2,1.4,1.5,.6,.8,.4,.1,.2,.2,.2,.3,.1],
[-1.8,-.8,-.4,-1.1,-1.8,1,1.4,.9,.7,.7,.1,.7,.2,.5,.9,.2],
[-.1,.1,-1,-1,-1.9,2,.3,.9,1.3,.7,.1,-.4,-.6,.2,-.4,1],
[-.9,-1.8,-.1,-.4,-2,1.1,1.4,.8,.8,1.1,.1,-.3,-.2,.1,.1,.8],
[-.8,-1.6,-.7,-.4,-.6,-1,-1.3,.1,.3,.5,.5,1.2,1.3,1.3,.8,1.3],
[-.3,-2,-1.2,-1,-.6,-.2,.3,.2,.2,.2,1.6,.7,.4,.7,1.2,.8],
[-.3,-1.7,-.9,-1.5,-1.1,.1,.5,.3,.3,.4,.8,1,.9,1.4,1.1,.8]];

const cytoGenes=['Fgr','Trim21','Pml','Il1rn','Irf8','Irf9','Irf1','Cd40','Prkcb','Ighg1','Psmd1','Psme2','Psmb8','Gbp3','Hsp90aa1','Il1b','Junb','Epha5','Rps6ka2','Ptpn7','Fscn1','Csf2rb','Psmb10','Gbp7','Ccr5','Uba7','Ifit2','Isg15','Il10ra','Psma4','Cxcl10','Il2','Cd36','Il17d','Ptpn4','Fgfr4'];
const cytoZ=[
[.4,0,.3,.5,1,1,1,1.1,1.1,1,-.5,-1.4,-1.4,-1.3,-1.1,-1.2],
[-.5,.4,.1,.4,.7,1,.9,1.2,1.2,1,-.3,-1.1,-1,0,-2,-.5],
[0,.3,.2,.3,.4,1.4,1,1.4,1.6,1.5,-.3,-1,-.9,-1,-.8,-.6],
[.5,0,-.2,-.3,-.2,1.2,1,1.3,1.4,1.5,-.3,-1.4,-.9,-.9,-.6,-.6],
[.3,.5,-.1,.2,.5,1.5,1.1,1.4,1,1.2,-.3,-1.1,-1.2,-1,-1,-1.2],
[.3,.6,-.1,.1,.2,1.5,1.4,1.3,1.3,1.2,-.4,-1.1,-1.1,-1.1,-.9,-.9],
[-.3,.1,.3,.2,.1,1.1,1.4,1.2,1.3,1.3,-.3,-.9,-.8,-1.2,-.9,-1],
[0,-.1,.2,.3,.1,1.3,1,1.3,1.3,1.3,-.7,-1.2,-.9,-.1,-1,-1],
[.9,-.1,.5,-.3,.2,2,.4,.5,.4,1.2,-.2,-1,-1.6,-.8,-.8,-.1],
[.7,-.1,1.2,-.2,-.9,2,.2,.3,.1,1.3,-.3,-1,-.9,-.7,-.7,-.5],
[-1.1,-1,-1.1,-2,-.7,1.2,1.2,1,.6,.9,.4,.4,.5,.6,.4,.4],
[-.2,-1.2,-1.6,-1.9,-.4,1.2,.9,1,1.1,1,.4,0,.1,.2,0,.5],
[-1.4,-1.4,-1.1,-1.3,-1.2,.8,.7,1.2,1.4,1.3,.5,.3,.3,.1,.2,.6],
[-1.3,-1.6,-1.1,-1.5,-.9,1,1.1,1.2,1.3,1.4,.5,.1,-.2,.1,.2,.3],
[-.7,-1.5,-1,-1.7,-1.3,.9,.6,.9,1,1.6,.6,.6,.6,.4,.4,.4],
[-1.2,-1.4,-1.8,-.7,0,.7,.6,1.2,1.4,1.2,1,-.5,-.6,.7,.1,-.6],
[-1.4,-1.2,-1.7,-.8,-.3,1.4,1.4,.9,.7,.7,.3,.6,.1,.5,.4,-.6],
[-1.4,-1.2,-1.6,-1,-.4,1,1,.9,.8,1.2,.4,.7,.7,0,.6,.3],
[-.8,-1.6,-1.5,-1.3,-1.1,1.4,1.4,.7,.8,1,.3,.6,.7,.6,.6,-.4],
[-1,-1.6,-1.5,-1.4,-1.1,1.4,1.5,.7,.9,1.4,.3,.7,.7,.6,.6,-.4],
[-.2,0,-1,-1.2,-1.8,2,.4,.9,1.2,.8,.2,-.3,-.7,.2,-.4,1],
[-.7,-1.3,-.5,-1.2,-1.5,1.8,1.2,1.1,.9,1.3,.6,-.2,-.1,0,-.1,-.3],
[-1,-1.3,-1.1,-.9,-1.4,1.2,1.1,1.3,1.3,1.3,.5,0,.1,-.4,-.3,.3],
[-1.2,-1.3,-1.2,-1.4,-1.4,1.2,1.1,1.2,1.2,1.3,.5,.2,.1,-.3,-.2,.1],
[-.5,-1.3,-1,-1.4,-1,1.2,1.2,1.3,.9,1.2,.5,.2,.4,-.3,-.3,-.3],
[-.8,-.6,-1.2,-1.1,-1.5,1,1,1.2,1.6,1.4,.2,.2,0,-.5,-.3,-.7],
[-.8,-1.1,-1.1,-1.1,-1.1,1.3,1.5,1.3,1.2,1.3,.1,-.4,-.5,-.3,-.4,-.3],
[-1,-1,-.9,-1,-.9,1.3,1.3,1.3,1.3,1.4,0,-.4,-.5,-.2,-.3,-.7],
[-1.1,-.6,-1.8,-.4,-1,1.6,1.2,1,1,1.2,.3,0,-.5,.5,-.2,-.1],
[-1.2,-1.2,-1.7,-.6,-1,1.4,1.1,1,1,1.2,.9,.5,-.5,.5,-.2,.7],
[-.6,-.3,-.7,-.8,-.6,.9,.9,1.2,1.3,1.3,1.2,-1,-.9,-.7,-.2,-.1],
[1.1,1.4,1.1,1.1,1.7,-.9,-1.1,-.1,0,-.1,-1.7,-.9,-.9,.1,.2,.5],
[1,1,.9,.8,.9,-1.9,-1.1,-1.2,-.9,-1.6,.2,.7,.6,.6,.7,.5],
[.8,1.1,1.1,1.1,1.1,-1.7,-1,-1.2,-.3,-1.7,.2,-.1,.4,.2,.4,.7],
[1,1.1,1.1,1.7,1.2,-1,-1.1,-1,-.9,-1,-.5,.3,.2,.2,-.3,.6],
[0,.3,-.2,.3,0,-2,-.3,-1.4,.1,-1.1,.9,1.2,1.6,.8,1.1,.8]];

const cellGenes=['Pde8b','Dapk2','Glp1r','Pla2g1b','Ednrb','Prkcb','Irf1','Irf9','P2ry13','Fpr2','Il1b','Cxcl10','Grm1','Lpar1','Ccrl2','Ccr5','Adgrg5','Hsp90aa1','Panx1','Hspa1b'];
const cellZ=[
[.8,1,1,1.1,1.1,-2,-.8,-1.4,-.9,-1.2,-.4,.5,.6,.3,.4,.3],
[1.2,1.5,1.1,1,1.1,-1.5,-.7,-1.2,-.9,-1.9,-.1,.5,.3,.3,.4,.4],
[1.1,1.4,1.1,1,1,-1.3,-.9,-1.6,-.9,-1.6,.2,.5,.1,.3,.4,.1],
[1,1.1,.6,1,1,-1.5,-1.1,-1.1,-.8,-1.8,.2,.5,.8,.7,.5,.9],
[1,1,.9,1,1.2,-1.6,-1.2,-1.5,-.9,-1.8,-.9,.9,.9,.8,.8,.6],
[.8,-.1,.5,-.4,.2,2,.4,.5,.4,1.2,-.2,-1,-1.6,-1.1,-.8,-.1],
[-.4,.1,.3,.2,.1,1.1,1.4,1.2,1.2,1.3,-.3,-1,-.8,-1.3,-.9,-1],
[.3,.6,-.1,.1,.2,1.4,1.4,1.3,1.2,1.2,-.3,-1.2,-1.1,-1.3,-.9,-.9],
[.5,.6,-.1,.9,.4,1.3,.6,1.1,1.1,.9,-.3,0,-1.6,-1.3,-1.7,-.8],
[.9,1.2,.9,1,.9,.6,.6,.7,.2,.8,-.9,-1.5,-1.2,-1.2,-1.1,-1.3],
[-1.1,-1.4,-1.8,-.8,0,.6,.6,1.3,1.4,1.3,1,-.5,-.6,.7,.1,-.6],
[-1,-.5,-.9,-1.1,-.7,1.1,1,1.2,1.4,1.4,.6,-1,-.9,-.7,-.2,-.1],
[-1,-.9,-1.2,-1,-2,1.1,1.1,.9,1.2,1,.4,.3,.1,.2,.5,.6],
[-1.2,-1.2,-1.1,-.3,-1.9,1.1,1.1,.8,1.3,.8,.2,.4,.2,.7,.4,.6],
[-1.6,-1.4,-1,-1.2,-1.7,.5,.8,1.2,1.4,1.3,.1,.8,.4,.2,.5,.3],
[-.5,-1.3,-1,-1.3,-1.1,1.3,1.3,1.3,.9,1.2,.4,.2,.3,-.3,-.3,-.3],
[-.6,-1.3,-1.2,-1.2,-1.3,1.1,1.1,1.1,.9,1.4,.5,.1,.2,.3,-.4,.4],
[-.7,-1.4,-1,-1.8,-1.3,.9,.6,.9,1,1.6,.2,.6,.6,.4,.4,.4],
[-1.2,-.8,-.8,-2,-.6,.9,1.5,.5,.8,1.3,1,-.1,-.2,-.3,.2,.6],
[-.8,-1.5,-.9,-.5,-.7,-1,-1.3,-.2,.1,.4,.5,1.2,1.3,1.3,.8,1.3]];

const otherGenes=['Ccr5','Adgrg5','Ppp1r12a','Hsp90aa1','Grm1','Lpar1','Ccrl2','Fpr2','P2ry13','Pde8b','Ednrb','Chp1','Gucy1a1','Glp1r','Ppp1r14a','Fzd7'];
const otherZ=[
[-.5,-1.3,-1.1,-1.2,-1.2,1,1.2,1.3,1,1.2,.3,.2,.4,-.3,-.3,-.1],
[-.6,-1.4,-1.2,-1.2,-1.3,1,1.2,1.2,1,1.3,.3,.1,.1,.3,-.4,.4],
[-1,-1.5,-1.2,-1.6,-1.3,1,1.3,1.1,.6,1.2,.3,.3,.3,.5,.4,.4],
[-1,-1.3,-1.2,-1.7,-1.3,1,.7,.9,1,1.6,.2,.6,.6,.4,.4,.4],
[-1,-1,-1.2,-1,-2,1,1.1,.9,1.2,1.1,.4,.3,.1,.2,.5,.7],
[-1.3,-1.2,-1.1,-.7,-1.9,1.4,1.1,.8,1.3,.8,.2,.4,.2,.7,.4,.6],
[-1.6,-1.3,-1,-1.2,-1.8,.4,.8,1.2,1.5,1.3,.1,.8,.4,.2,.5,.3],
[.9,1.1,.9,1,.9,.6,.6,.7,.2,.8,-.9,-1.6,-1.3,-1.3,-1.2,-1.3],
[.3,.4,-.2,.9,.3,1.3,.6,1,1,.8,-.3,-.3,-1.6,-1.3,-1.7,-.8],
[.9,1.1,1,1.1,1.1,-2,-.8,-1.4,-.9,-1.3,-.4,.7,.7,.3,.5,.3],
[1,1,1,1.1,1.2,-1.3,-1,-1.4,-.9,-1.6,-.9,.9,.8,.7,.8,.6],
[1.3,1.2,1,1.3,1.1,-1.4,-1.8,-.7,-.7,-1.3,-.1,-.2,-.1,.2,.3,.2],
[1.6,1.1,.8,1.3,1.1,-1.6,-.3,-1.3,-.8,-1.4,0,.3,.1,.3,.4,-.1],
[1.1,1.2,1,1,1.1,-1,-.6,-1.6,-.8,-1.4,.2,.4,.1,.3,.4,.1],
[.3,1.1,1.1,1,1.1,-2,-1.3,-.4,-.3,-.5,.2,.8,.1,.3,.5,.3],
[.4,1,1.1,1.4,1.4,-2,-1.3,-.4,-.3,-.6,.2,.5,.3,-.2,.4,.4]];

/* Dendrogram trees: [mergeX, childA, childB] or [startX, leafCount] (x in heat-panel grid units) */
const viralTree=[120,[125,[140,[160,8],[158,[162,[172,2],[170,9]],[162,[170,5],[172,5]]]],[165,2]],[157,8]];
const immuneTree=[118,[122,[157,[165,15],[170,3]],[153,[175,2],[162,12]]],[135,[162,32],[165,3]]];
const cytoTree=[120,[140,[155,[168,8],[172,2]],[160,[172,10],[165,11]]],[138,[157,4],[192,1]]];
const cellTree=[120,[122,[178,5],[158,5]],[135,[158,9],[192,1]]];
const otherTree=[120,[130,[172,7],[165,2]],[168,[172,5],[175,2]]];

/* ===== Drawing helpers ===== */
const NS='http://www.w3.org/2000/svg';
function mk(tag,attrs,parent){
  const e=document.createElementNS(NS,tag);
  for(const k in attrs)e.setAttribute(k,attrs[k]);
  parent.appendChild(e);
  return e;
}
const gridX=v=>v*1700/1568;

/* Stipple textures for the overplotted point clouds */
const sparseTile=[[4,7],[15,3],[27,9],[41,5],[54,11],[9,19],[22,21],[33,17],[47,23],[57,27],[3,31],[16,34],[28,29],[39,35],[51,38],[8,44],[21,47],[33,43],[45,49],[56,52],[13,56],[36,55]];
const denseTile=[[3,3],[10,1],[18,4],[26,2],[6,9],[14,8],[22,10],[29,8],[2,15],[10,14],[17,16],[25,15],[6,21],[13,22],[21,21],[28,22],[3,27],[11,28],[18,27],[25,27]];
function makeTexture(id,tile,size,color){
  const p=mk('pattern',{id:id,width:size,height:size,patternUnits:'userSpaceOnUse'},document.getElementById('defs'));
  tile.forEach(d=>{mk('circle',{cx:d[0],cy:d[1],r:2.8,fill:color},p);});
}
makeTexture('sparseDown',sparseTile,60,'#0000e0');
makeTexture('sparseUp',sparseTile,60,'#cc0000');
makeTexture('denseDown',denseTile,30,'#0000e0');
makeTexture('denseUp',denseTile,30,'#cc0000');

/* ----- PCA ----- */
(function(){
  const g=document.getElementById('pca');
  const L=81.5,R=750,T=179,B=1044;
  const x=v=>385+2.456*v, y=v=>546-5.93*v;
  const gridY=v=>v*1150/1568;
  [-100,-75,-50,-25,0,25,50,75,100,125].forEach(v=>{
    const major=v%50===0;
    const l=mk('line',{x1:x(v),x2:x(v),y1:T,y2:B,stroke:major?'#ebebeb':'#f4f4f4','stroke-width':major?3:2},g);
    
    
  });
  [-75,-50,-25,0,25,50].forEach(v=>{
    const major=v%50===0;
    const l=mk('line',{x1:L,x2:R,y1:y(v),y2:y(v),stroke:major?'#ebebeb':'#f4f4f4','stroke-width':major?3:2},g);
    
    
  });
  const fr=mk('rect',{x:L,y:T,width:R-L,height:B-T,fill:'none',stroke:'#666','stroke-width':2},g);
  
  
  [-100,-50,0,50,100].forEach(v=>{
    const t=mk('text',{x:x(v),y:1067,'font-size':20,fill:'#555','text-anchor':'middle'},g);
    t.textContent=String(v).replace('-','−');
    
    
  });
  [-50,0,50].forEach(v=>{
    const t=mk('text',{x:L-6,y:y(v)+7,'font-size':19,fill:'#555','text-anchor':'end'},g);
    t.textContent=String(v).replace('-','−');
    
    
  });
  const xt=mk('text',{x:403,y:1090,'font-size':24,fill:'#333','text-anchor':'middle',textLength:180,lengthAdjust:'spacingAndGlyphs'},g);
  xt.textContent='PC1: 28.64% variance';
  
  
  const yt=mk('text',{transform:'translate(34 623) rotate(-90)','font-size':20,'text-anchor':'middle',textLength:179,lengthAdjust:'spacingAndGlyphs',class:'dj'},g);
  yt.textContent='PC2: 13.42% variance';
  
  
  pcaNames.forEach((n,i)=>{
    const c=groupColors[pcaGroups[i]];
    const p=mk('circle',{cx:x(pcaPC1[i]),cy:y(pcaPC2[i]),r:12,fill:c},g);
    
    
    const lx=gridX(pcaLabelAt[i][0]), ly=gridY(pcaLabelAt[i][1])+10;
    const t=mk('text',{x:lx,y:ly,'font-size':29,fill:c,'text-anchor':'middle'},g);
    t.textContent=n;
    
    
    if(pcaSups[i]){
      const w=101;
      const s=mk('text',{x:lx+w,y:ly-18,'font-size':24,fill:c,'text-anchor':'middle'},g);
      s.textContent=pcaSups[i];
      
      
      const e=mk('text',{x:lx+w+2,y:ly,'font-size':29,fill:c,'text-anchor':'middle'},g);
      e.textContent=pcaSuffix[i];
      
      
    }
  });
  const seg=mk('line',{x1:x(pcaPC1[2])+10,y1:y(pcaPC2[2]),x2:201,y2:234,stroke:groupColors[0],'stroke-width':2.5},g);
  
  
})();

/* ----- Volcano ----- */
function band(g,b,xS,yS,fill,name){
  const [lv,inner,outer]=b;
  const pts=[];
  lv.forEach((l,i)=>pts.push(xS(inner[i])+','+yS(l)));
  for(let i=lv.length-1;i>=0;i--)pts.push(xS(outer[i])+','+yS(lv[i]));
  const p=mk('polygon',{points:pts.join(' '),fill:fill},g);
  
  
}
function dots(g,arr,xS,yS,color,r,name){
  arr.forEach(d=>{
    const c=mk('circle',{cx:xS(d[0]),cy:yS(d[1]),r:r,fill:color},g);
    
    
  });
}
function volcano(id,f,d){
  const g=document.getElementById(id);
  const xS=v=>f.x0+f.ux*v, yS=v=>f.y0-f.uy*v;
  const gridYv=v=>f.gy+v*1150/1568;
  f.xg.forEach(v=>{
    const major=v%5===0;
    const l=mk('line',{x1:xS(v),x2:xS(v),y1:f.T,y2:f.B,stroke:major?'#ececec':'#f4f4f4','stroke-width':major?3:2},g);
    
    
  });
  f.yg.forEach((v,i)=>{
    const major=i%2===0;
    const l=mk('line',{x1:f.L,x2:f.R,y1:yS(v),y2:yS(v),stroke:major?'#ececec':'#f4f4f4','stroke-width':major?3:2},g);
    
    
  });
  const fr=mk('rect',{x:f.L,y:f.T,width:f.R-f.L,height:f.B-f.T,fill:'none',stroke:'#777','stroke-width':2},g);
  
  
  [-10,-5,0,5,10].forEach(v=>{
    const t=mk('text',{x:xS(v),y:f.xty+7,'font-size':20,fill:'#555','text-anchor':'middle'},g);
    t.textContent=String(v).replace('-','−');
    
    
  });
  f.yt.forEach((v,i)=>{
    const t=mk('text',{x:f.L-6,y:yS(v)+7,'font-size':20,fill:'#555','text-anchor':'end'},g);
    t.textContent=f.ytl[i];
    
    
  });
  const xt=mk('text',{x:f.xtx,y:f.xtty,'font-size':26,fill:'#333','text-anchor':'middle'},g);
  xt.textContent='log';
  
  
  const sub=mk('tspan',{'font-size':17,dy:6},xt);
  sub.textContent='2';
  const fc=mk('tspan',{dy:-6},xt);
  fc.textContent='FC';
  const yt=mk('text',{transform:'translate('+f.ytx+' '+f.yty+') rotate(-90)','font-size':22,'text-anchor':'middle',class:'dj'},g);
  yt.textContent='−log';
  
  
  const sub2=mk('tspan',{'font-size':15,dy:5},yt);
  sub2.textContent='10';
  const fd=mk('tspan',{dy:-5},yt);
  fd.textContent='FDR';

  const leftScale=f.nsl||1;
  band(g,d.ns,xS,yS,'#b5b5b5','ns-density-right');
  band(g,[d.ns[0],d.ns[1].map(v=>-v),d.ns[2].map(v=>-v*leftScale)],xS,yS,'#b5b5b5','ns-density-left');
  dots(g,d.nsDots,xS,yS,'#c4c4c4',2.4,'ns-point');
  band(g,d.downHalo,xS,yS,'url(#sparseDown)','down-cloud-sparse');
  band(g,d.upHalo,xS,yS,'url(#sparseUp)','up-cloud-sparse');
  band(g,d.downCore,xS,yS,'url(#denseDown)','down-cloud-dense');
  band(g,d.upCore,xS,yS,'url(#denseUp)','up-cloud-dense');
  band(g,d.downSolid,xS,yS,'#0000e0','down-cloud-solid');
  band(g,d.upSolid,xS,yS,'#cc0000','up-cloud-solid');
  dots(g,d.down,xS,yS,'#0000e0',2.8,'down-point');
  dots(g,d.up,xS,yS,'#cc0000',2.8,'up-point');
  const th=mk('line',{x1:f.L,x2:f.R,y1:f.th,y2:f.th,stroke:'#bbb','stroke-width':3},g);
  
  

  /* legend */
  const lb=mk('rect',{x:f.lg[0],y:f.lg[1],width:f.lg[2],height:f.lg[3],fill:'#fff',stroke:'#555','stroke-width':3},g);
  
  
  const lc=['#0000e0','#cc0000','#bdbdbd'];
  d.legend.forEach((s,i)=>{
    const yy=f.lg[1]+24.5+i*27.3;
    const c=mk('circle',{cx:f.lg[0]+22,cy:yy,r:5,fill:lc[i]},g);
    
    
    const t=mk('text',{x:f.lg[0]+44,y:yy+8,'font-size':23,fill:'#222'},g);
    t.textContent=s;
    
    
    t.setAttribute('textLength',t.getComputedTextLength()*.95);
    t.setAttribute('lengthAdjust','spacingAndGlyphs');
  });

  /* gene labels */
  d.genes.forEach((n,i)=>{
    const isUp=d.fc[i]>0;
    const px=xS(d.fc[i]), py=yS(d.fdr[i]);
    const col=isUp?'#cc0000':'#0000e0';
    const bx=gridX(d.boxes[i][0]), by=gridYv(d.boxes[i][1]);
    const ln=mk('line',{x1:px,y1:py,x2:bx,y2:by,stroke:'#bdbdbd','stroke-width':2.5},g);
    
    
    const pt=mk('circle',{cx:px,cy:py,r:4.5,fill:col},g);
    
    
  });
  d.genes.forEach((n,i)=>{
    const isUp=d.fc[i]>0;
    const bx=gridX(d.boxes[i][0]), by=gridYv(d.boxes[i][1]);
    const r=mk('rect',{rx:2,fill:'#fff',stroke:isUp?'#ee9a9a':'#a8a8ee','stroke-width':2.5},g);
    
    
    const t=mk('text',{x:bx,y:by+9,'font-size':26,'text-anchor':'middle',fill:isUp?'#c81e1e':'#2a2ad0'},g);
    t.textContent=n;
    
    
    const w=t.getComputedTextLength()+14;
    r.setAttribute('x',bx-w/2);
    r.setAttribute('y',by-16);
    r.setAttribute('width',w);
    r.setAttribute('height',32);
  });
}
const minor=[-12.5,-10,-7.5,-5,-2.5,0,2.5,5,7.5,10,12.5];
volcano('volB',{L:967,R:1651,T:195,B:1023,x0:1288,ux:27.4,y0:987,uy:7.48,th:977,gy:0,xg:minor.slice(1,10),yg:[0,12.5,25,37.5,50,62.5,75,87.5,100],yt:[0,25,50,75,100],ytl:['0','25','50','75','> 100'],xty:1039,xtx:1305,xtty:1073,ytx:913,yty:613,lg:[1393,279,251,100]},
 {genes:bGenes,fc:bGeneFC,fdr:bGeneFDR,boxes:bBoxes,legend:bLegend,down:bDown,up:bUp,downSolid:bDownSolid,downCore:bDownCore,downHalo:bDownHalo,upSolid:bUpSolid,upCore:bUpCore,upHalo:bUpHalo,ns:bNs,nsDots:bNsDots});
volcano('volC',{L:71.5,R:765,T:1368,B:2196,x0:414,ux:32.65,y0:2160,uy:20.96,th:2132,gy:1150,xg:minor.slice(1,10),yg:[0,5,10,15,20,25,30],yt:[0,10,20,30,35],ytl:['0','10','20','30','> 35'],xty:2212,xtx:414,xtty:2246,ytx:28,yty:1786,lg:[501,1381,256,99]},
 {genes:cGenes,fc:cGeneFC,fdr:cGeneFDR,boxes:cBoxes,legend:cLegend,down:cDown,up:cUp,downSolid:cDownSolid,downCore:cDownCore,downHalo:cDownHalo,upSolid:cUpSolid,upCore:cUpCore,upHalo:cUpHalo,ns:cNs,nsDots:cNsDots});
volcano('volD',{L:956,R:1651,T:1360,B:2188,x0:1300,ux:32.2,y0:2151,uy:24.3,th:2118,gy:1150,xg:minor.slice(1,10),yg:[0,5,10,15,20,25,30],yt:[0,10,20,30],ytl:['0','10','20','> 30'],xty:2204,xtx:1300,xtty:2237,ytx:913,yty:1777,lg:[1388,1372,256,98]},
 {genes:dGenes,fc:dGeneFC,fdr:dGeneFDR,boxes:dBoxes,legend:dLegend,down:dDown,up:dUp,downSolid:dDownSolid,downCore:dDownCore,downHalo:dDownHalo,upSolid:dUpSolid,upCore:dUpCore,upHalo:dUpHalo,ns:dNs,nsDots:dNsDots});
volcano('volE',{L:71.5,R:765,T:2524,B:3356,x0:439,ux:31,y0:3319,uy:12.42,th:3302,gy:2300,nsl:1.5,xg:minor.slice(1,10),yg:[0,10,20,30,40,50,60],yt:[0,20,40,60],ytl:['0','20','40','> 60'],xty:3372,xtx:414,xtty:3406,ytx:28,yty:2944,lg:[497,2536,256,100]},
 {genes:eGenes,fc:eGeneFC,fdr:eGeneFDR,boxes:eBoxes,legend:eLegend,down:eDown,up:eUp,downSolid:eDownSolid,downCore:eDownCore,downHalo:eDownHalo,upSolid:eUpSolid,upCore:eUpCore,upHalo:eUpHalo,ns:eNs,nsDots:eNsDots});
volcano('volF',{L:967,R:1651,T:2534,B:3357,x0:1308.6,ux:26,y0:3321,uy:7.43,th:3311,gy:2300,xg:minor,yg:[0,12.5,25,37.5,50,62.5,75,87.5,100],yt:[0,25,50,75,100],ytl:['0','25','50','75','> 100'],xty:3374,xtx:1305,xtty:3407,ytx:913,yty:2949,lg:[1384.5,2546,255,98]},
 {genes:fGenes,fc:fGeneFC,fdr:fGeneFDR,boxes:fBoxes,legend:fLegend,down:fDown,up:fUp,downSolid:fDownSolid,downCore:fDownCore,downHalo:fDownHalo,upSolid:fUpSolid,upCore:fUpCore,upHalo:fUpHalo,ns:fNs,nsDots:fNsDots});

/* ----- Colour-bar ticks ----- */
(function(){
  const g=document.getElementById('zticks');
  const x=v=>2173.7+40.9*v;
  zTickValues.forEach((v,i)=>{
    const a=mk('line',{x1:x(v),x2:x(v),y1:91,y2:97,stroke:'#fff','stroke-width':2},g);
    
    
    const b=mk('line',{x1:x(v),x2:x(v),y1:124,y2:130,stroke:'#fff','stroke-width':2},g);
    
    
    const t=mk('text',{x:x(v),y:162,'font-size':28,fill:'#222','text-anchor':'middle'},g);
    t.textContent=zTicks[i];
    
    
  });
})();

/* ----- Heatmap ----- */
(function(){
  const g=document.getElementById('heat');
  const left=1971.8, cw=91.9, tip=1970;
  const colX=c=>left+cw*c;
  function zColor(z){
    const v=Math.max(-2,Math.min(2,z));
    let i=0;
    while(i<zBreaks.length-2&&v>zBreaks[i+1])i++;
    const t=(v-zBreaks[i])/(zBreaks[i+1]-zBreaks[i]);
    const a=zColors[i],b=zColors[i+1];
    return 'rgb('+[0,1,2].map(k=>Math.round(a[k]+(b[k]-a[k])*t)).join(',')+')';
  }
  colGroup.forEach((gr,c)=>{
    const r=mk('rect',{x:colX(c),y:188,width:cw+.6,height:36,fill:groupColors[gr],'shape-rendering':'crispEdges'},g);
    
    
  });
  const blocks=[[viralGenes,viralZ,233,906,viralTree],[immuneGenes,immuneZ,921,2076,immuneTree],[cytoGenes,cytoZ,2094,2713,cytoTree],[cellGenes,cellZ,2731,3076,cellTree],[otherGenes,otherZ,3093,3369,otherTree]];
  const treeX=v=>1750+v*1.1435;
  blocks.forEach(bk=>{
    const genes=bk[0],rows=bk[1],top=bk[2],bot=bk[3],tree=bk[4];
    const rh=(bot-top)/genes.length;
    rows.forEach((row,r)=>{
      row.forEach((z,c)=>{
        const cell=mk('rect',{x:colX(c),y:top+rh*r,width:cw+.6,height:rh+.6,fill:zColor(z),'shape-rendering':'crispEdges'},g);
        
        
      });
      const t=mk('text',{x:3450,y:top+rh*r+rh/2+6,'font-size':17.5,fill:'#000',stroke:'#000','stroke-width':.35},g);
      t.textContent=genes[r];
      
      
    });
    /* dendrogram */
    let cursor=0;
    function seg(x1,y1,x2,y2){
      const l=mk('line',{x1:x1,y1:y1,x2:x2,y2:y2,stroke:'#000','stroke-width':3,'stroke-linecap':'square'},g);
      
      
    }
    function leaf(){const y=top+rh*cursor+rh/2;cursor++;return y;}
    function comb(n,x){
      if(n===1)return{y:leaf(),x:tip};
      const nx=x+(tip-x)*.38;
      const a=Math.ceil(n/3);
      const A=comb(a,nx),B=comb(n-a,nx);
      seg(x,A.y,x,B.y);seg(x,A.y,A.x,A.y);seg(x,B.y,B.x,B.y);
      return{y:(A.y+B.y)/2,x:x};
    }
    function walk(node){
      const x=treeX(node[0]);
      if(node.length===2)return comb(node[1],x);
      const A=walk(node[1]),B=walk(node[2]);
      seg(x,A.y,x,B.y);seg(x,A.y,A.x,A.y);seg(x,B.y,B.x,B.y);
      return{y:(A.y+B.y)/2,x:x};
    }
    walk(tree);
  });
  colBase.forEach((n,c)=>{
    const ex=colX(c)+cw/2+10, ey=3395;
    const t=mk('text',{transform:'translate('+ex+' '+ey+') rotate(-60)','font-size':30,'font-style':'italic','text-anchor':'end',fill:'#000','font-weight':600},g);
    t.textContent=n;
    
    
    if(colSup[c]){
      const s=mk('tspan',{'font-size':20,dy:-11},t);
      s.textContent=colSup[c];
      const e=mk('tspan',{dy:11},t);
      e.textContent=colSuffix[c];
    }
  });
})();
</script>
</body></html>
